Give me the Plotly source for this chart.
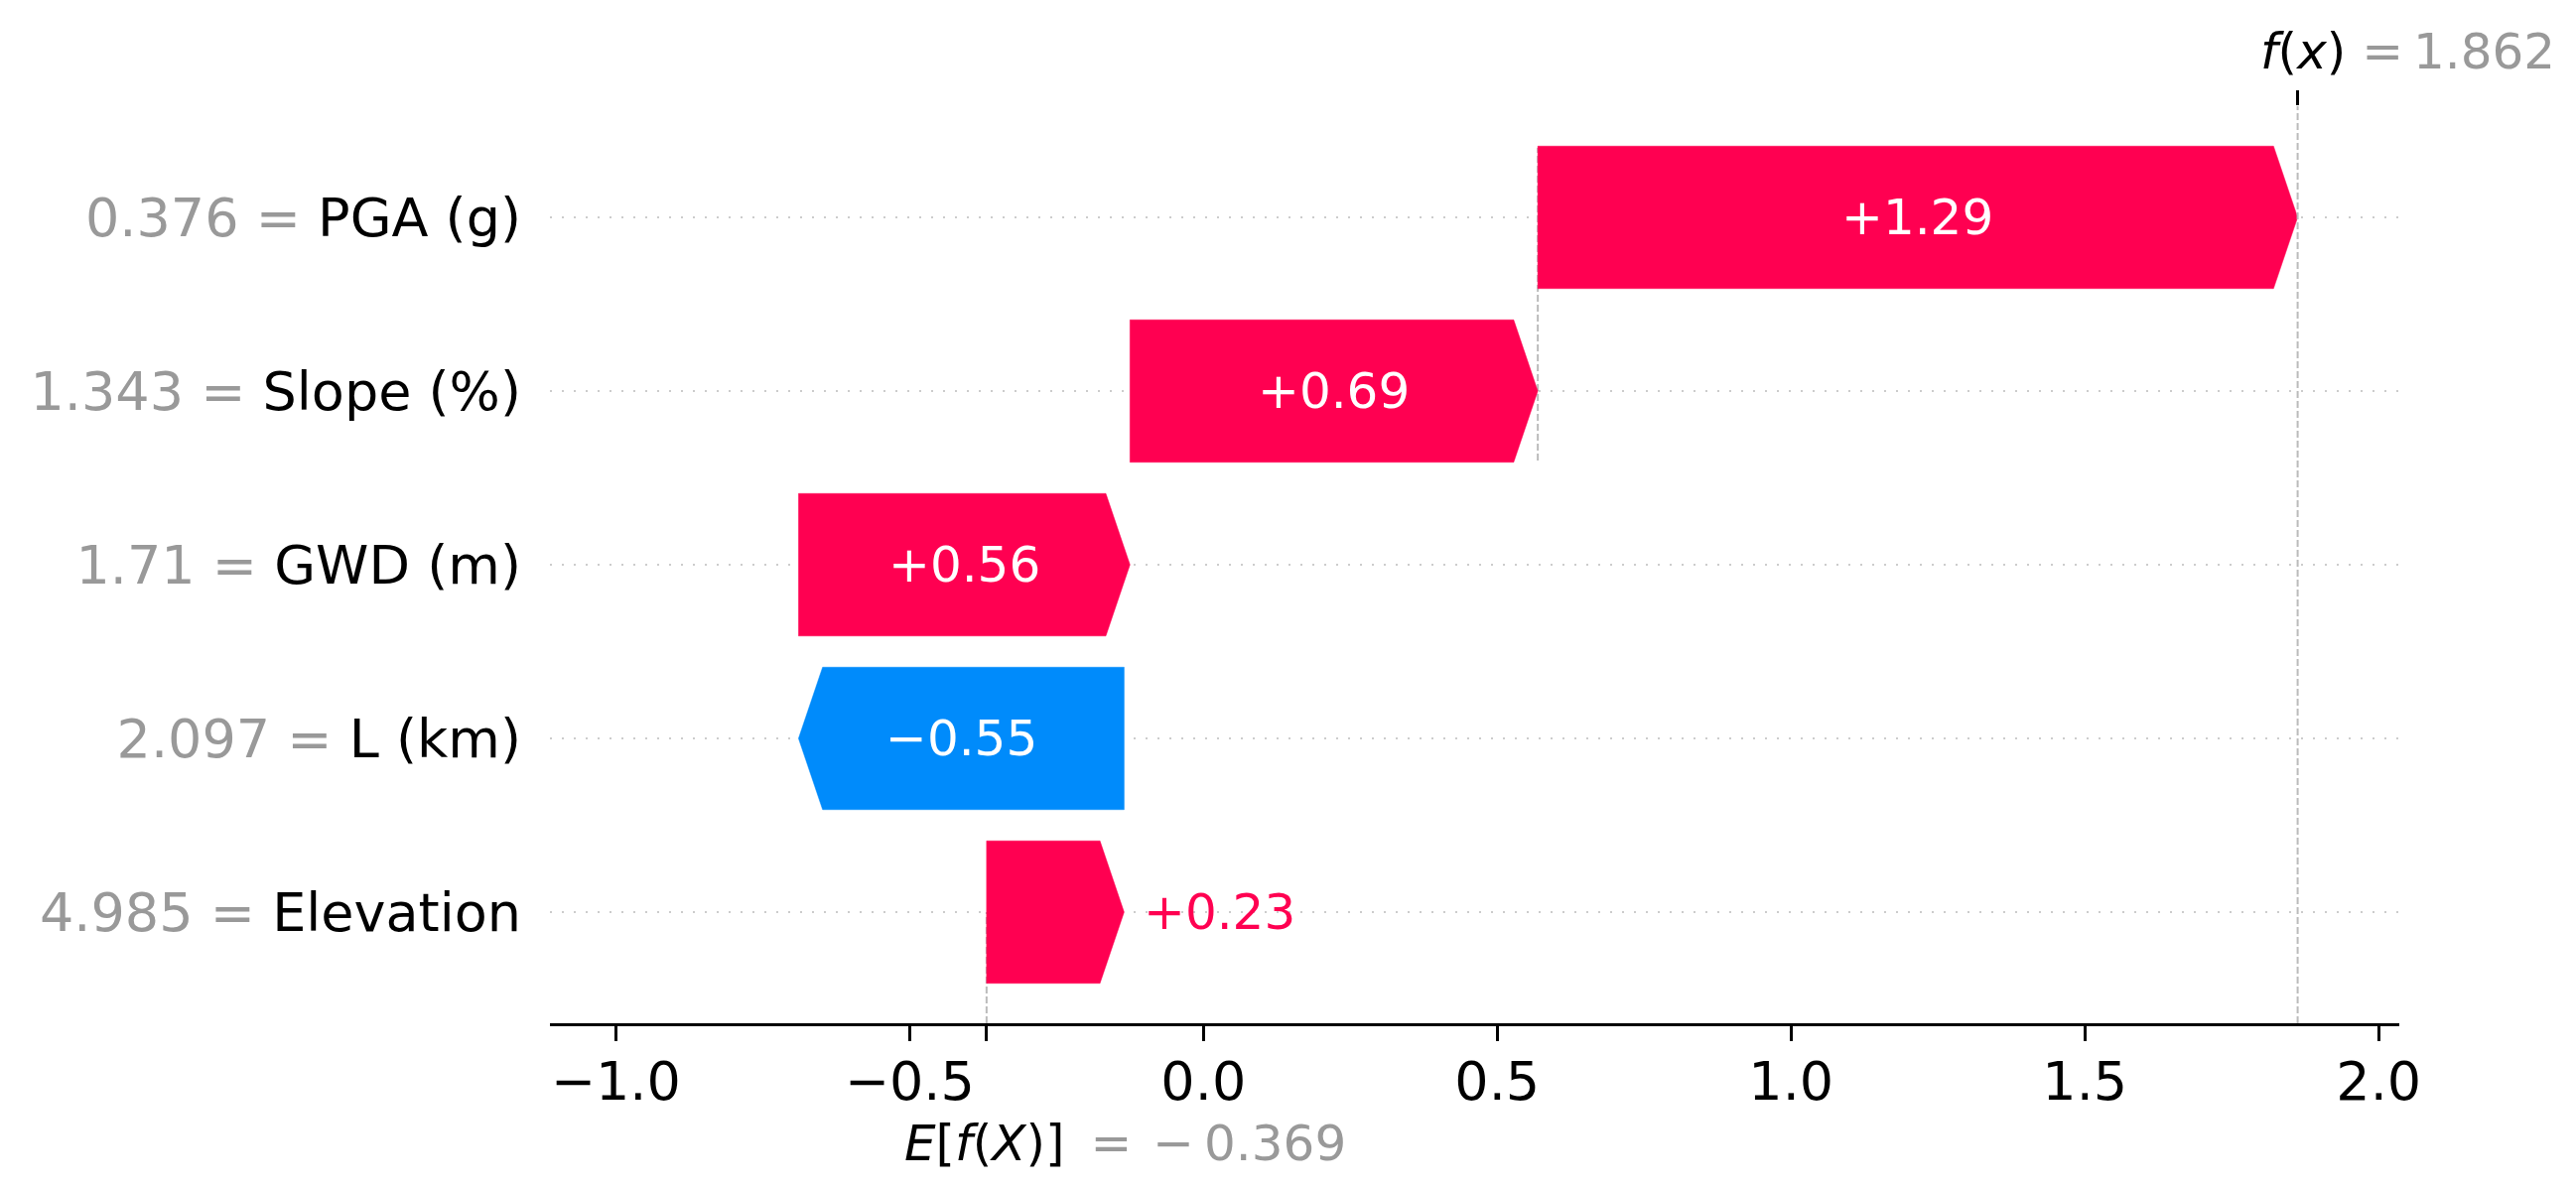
import plotly.graph_objects as go

# ---- data (rows listed bottom -> top) ----
features = ["Elevation", "L (km)", "GWD (m)", "Slope (%)", "PGA (g)"]
feature_values = ["4.985", "2.097", "1.71", "1.343", "0.376"]
shap_values = [0.234, -0.554, 0.564, 0.694, 1.293]
base_value = -0.369
fx_value = 1.862
x_tick_vals = [-1.0, -0.5, 0.0, 0.5, 1.0, 1.5, 2.0]
x_tick_text = ["\u22121.0", "\u22120.5", "0.0", "0.5", "1.0", "1.5", "2.0"]

# ---- style ----
RED = "#ff0051"
BLUE = "#008bfb"
GRAY_TXT = "#999999"
FONT = "DejaVu Sans"
BAR_H = 0.82
HEAD = 0.041
X_RANGE = [-1.112, 2.035]
Y_RANGE = [-0.64, 4.64]

fig = go.Figure()

# cumulative positions
starts, ends = [], []
cur = base_value
for v in shap_values:
    starts.append(cur)
    cur = cur + v
    ends.append(cur)

n = len(features)
rows = list(range(n))

DASH = dict(color="#bbbbbb", width=2, dash="7px,3px")
# connector dashed lines (as in shap: only drawn for the top-most bars)
for i in range(1, n):
    order_from_top = n - 1 - i
    if order_from_top + 4 < n:
        xloc = starts[i]
        fig.add_trace(go.Scatter(x=[xloc, xloc], y=[rows[i] - 1 - 0.4, rows[i] + 0.4], mode="lines",
                                 line=DASH, hoverinfo="skip", showlegend=False))
# base value line
fig.add_trace(go.Scatter(x=[base_value, base_value], y=[Y_RANGE[0], 0], mode="lines",
                         line=DASH, hoverinfo="skip", showlegend=False))
# f(x) line (on top twin axis)
fig.add_trace(go.Scatter(x=[fx_value, fx_value], y=[Y_RANGE[0], Y_RANGE[1]], mode="lines",
                         xaxis="x2", yaxis="y", line=DASH, hoverinfo="skip", showlegend=False))

annotations = []
for i in range(n):
    s, e, v, y = starts[i], ends[i], shap_values[i], rows[i]
    hl = min(HEAD, abs(v))
    top, bot = y + BAR_H / 2, y - BAR_H / 2
    if v >= 0:
        xs = [s, e - hl, e, e - hl, s, s]
        color = RED
    else:
        xs = [s, e + hl, e, e + hl, s, s]
        color = BLUE
    ys = [bot, bot, y, top, top, bot]
    fig.add_trace(go.Scatter(x=xs, y=ys, mode="lines", fill="toself", fillcolor=color,
                             line=dict(color=color, width=0.5), hoverinfo="skip", showlegend=False))
    label = ("+" if v >= 0 else "\u2212") + "%.2f" % abs(v)
    if abs(v) > 0.3:
        annotations.append(dict(x=(s + e) / 2, y=y, xref="x", yref="y", text=label, showarrow=False,
                                font=dict(family=FONT, size=50, color="white"),
                                xanchor="center", yanchor="middle"))
    else:
        annotations.append(dict(x=e, y=y, xref="x", yref="y", text=label, showarrow=False,
                                font=dict(family=FONT, size=50, color=color),
                                xanchor="left", yanchor="middle", xshift=18))

# f(x) label
annotations.append(dict(x=fx_value, y=1, xref="x", yref="paper", showarrow=False,
                        text="<i>f</i>(<i>x</i>) <span style='color:%s'>=\u20091.862</span>" % GRAY_TXT,
                        font=dict(family=FONT, size=50, color="black"),
                        xanchor="left", yanchor="middle", xshift=-40, yshift=55))
# E[f(X)] label
annotations.append(dict(x=base_value, y=0, xref="x", yref="paper", showarrow=False,
                        text="<i>E</i>[<i>f</i>(<i>X</i>)] \u2009<span style='color:%s'>= \u200a\u2212\u20090.369</span>" % GRAY_TXT,
                        font=dict(family=FONT, size=50, color="black"),
                        xanchor="left", yanchor="middle", xshift=-85, yshift=-121))

y_tick_text = ["<span style='color:%s'>%s = </span>%s" % (GRAY_TXT, fv, f)
               for fv, f in zip(feature_values, features)]

bottom_vals = x_tick_vals[:2] + [base_value] + x_tick_vals[2:]
bottom_text = x_tick_text[:2] + [""] + x_tick_text[2:]

fig.update_layout(
    width=2579, height=1182,
    margin=dict(l=546, r=170, t=99, b=159, pad=0),
    plot_bgcolor="white", paper_bgcolor="white",
    showlegend=False,
    font=dict(family=FONT, size=54, color="black"),
    annotations=annotations,
    xaxis=dict(range=X_RANGE, tickvals=bottom_vals, ticktext=bottom_text,
               ticks="outside", ticklen=15, tickwidth=2.5, tickcolor="black",
               showline=True, linecolor="black", linewidth=3, ticklabelstandoff=-6,
               showgrid=False, zeroline=False, tickfont=dict(family=FONT, size=54, color="black")),
    xaxis2=dict(range=X_RANGE, overlaying="x", side="top", anchor="y",
                tickvals=[fx_value], ticktext=[""], ticks="outside", ticklen=15, tickwidth=2.5,
                tickcolor="black", showline=False, showgrid=False, zeroline=False),
    yaxis=dict(range=Y_RANGE, tickvals=rows, ticktext=y_tick_text,
               showgrid=True, gridcolor="#cccccc", gridwidth=2, griddash="2px,10px",
               zeroline=False, showline=False, ticks="", ticklabelstandoff=28,
               tickfont=dict(family=FONT, size=54, color="black")),
)

fig.write_html("out.html")
